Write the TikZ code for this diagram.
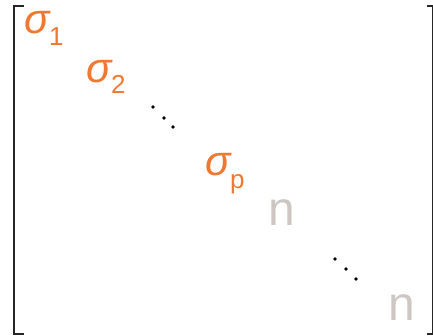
\documentclass[tikz,border=0pt]{standalone}
\usepackage{fontspec}
\setmainfont{Liberation Sans}
\usetikzlibrary{positioning}
\definecolor{sigorange}{RGB}{240,120,48}
\definecolor{ngray}{RGB}{204,199,194}

\begin{document}
\begin{tikzpicture}[x=1pt,y=-1pt,
	every node/.style={inner sep=0pt,anchor=base west},
	sig/.style={text=sigorange,font=\fontsize{42}{42}\selectfont\itshape},
	idx/.style={text=sigorange,font=\fontsize{26}{26}\selectfont},
	nn/.style={text=ngray,font=\fontsize{48}{48}\selectfont},
	dd/.style={circle,fill=black,minimum size=3.6pt,anchor=center}]
			\useasboundingbox (0,0) rectangle (433,335);
			
			% matrix brackets
			\draw[line width=2pt,black!85] (24,6) -- (13.5,6) -- (13.5,333.5) -- (24,333.5);
			\draw[line width=2pt,black!85] (427,6) -- (432.5,6) -- (432.5,333.5) -- (427,333.5);
			
			% singular values
			\node[sig] (s1) at (24,33) {σ};
			\node[idx] (s1i) at (49,45) {1};
			\node[sig] (s2) at (86,82) {σ};
			\node[idx] (s2i) at (111,93) {2};
			\node[sig] (sp) at (205,175) {σ};
			\node[idx] (spi) at (230,188) {p};
			
			% dots
			\node[dd] (d1a) at (153,107) {};
			\node[dd] (d1b) at (164,118) {};
			\node[dd] (d1c) at (173,127) {};
			\node[dd] (d2a) at (335,259) {};
			\node[dd] (d2b) at (346,269) {};
			\node[dd] (d2c) at (356,279) {};
			
			% remaining entries
			\node[nn] (n1) at (268,225) {n};
			\node[nn] (n2) at (388,320) {n};
			
		\end{tikzpicture}
\end{document}
